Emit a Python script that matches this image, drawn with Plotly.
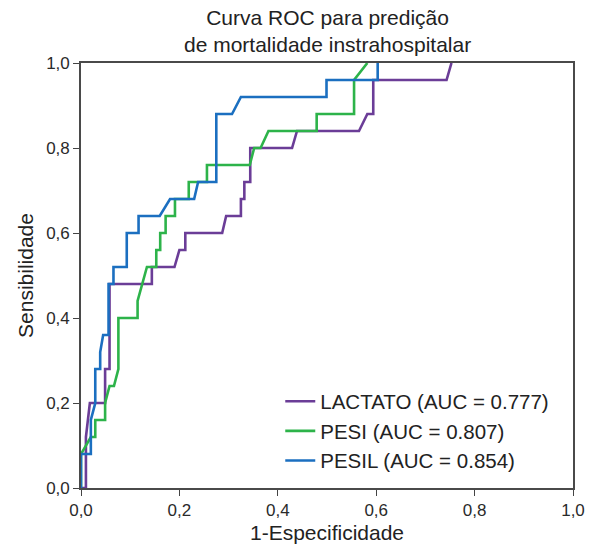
import plotly.graph_objects as go

lact_fpr = [0, 0.01, 0.01, 0.018, 0.049, 0.049, 0.058, 0.058, 0.144, 0.144, 0.19, 0.2, 0.212, 0.212,
            0.287, 0.295, 0.325, 0.325, 0.332, 0.332, 0.344, 0.344, 0.429, 0.439, 0.565, 0.582, 0.594,
            0.594, 0.743, 0.753]
lact_tpr = [0, 0, 0.12, 0.2, 0.2, 0.28, 0.28, 0.48, 0.48, 0.52, 0.52, 0.56, 0.56, 0.6,
            0.6, 0.64, 0.64, 0.68, 0.68, 0.72, 0.72, 0.8, 0.8, 0.84, 0.84, 0.88, 0.88,
            0.96, 0.96, 1.0]

pesi_fpr = [0, 0, 0.02, 0.029, 0.029, 0.049, 0.049, 0.058, 0.067, 0.076, 0.076, 0.115, 0.115, 0.134,
            0.153, 0.153, 0.161, 0.161, 0.172, 0.172, 0.191, 0.191, 0.219, 0.219, 0.256, 0.256,
            0.343, 0.352, 0.365, 0.381, 0.479, 0.479, 0.555, 0.555, 0.582]
pesi_tpr = [0, 0.08, 0.12, 0.12, 0.16, 0.16, 0.2, 0.24, 0.24, 0.28, 0.4, 0.4, 0.44, 0.52,
            0.52, 0.56, 0.56, 0.6, 0.6, 0.64, 0.64, 0.68, 0.68, 0.72, 0.72, 0.76,
            0.76, 0.8, 0.8, 0.84, 0.84, 0.88, 0.88, 0.96, 1.0]

pesil_fpr = [0, 0, 0.02, 0.02, 0.029, 0.029, 0.039, 0.039, 0.045, 0.056, 0.056, 0.066, 0.066, 0.093,
             0.093, 0.117, 0.117, 0.16, 0.181, 0.23, 0.238, 0.275, 0.275, 0.307, 0.325, 0.499,
             0.499, 0.603, 0.603]
pesil_tpr = [0, 0.08, 0.08, 0.16, 0.2, 0.28, 0.28, 0.32, 0.36, 0.36, 0.48, 0.48, 0.52, 0.52,
             0.6, 0.6, 0.64, 0.64, 0.68, 0.68, 0.72, 0.72, 0.88, 0.88, 0.92, 0.92,
             0.96, 0.96, 1.0]

series_names = ["LACTATO (AUC = 0.777)", "PESI (AUC = 0.807)", "PESIL (AUC = 0.854)"]
series_colors = ["#6b3d97", "#2db34a", "#1b6fc0"]
tick_vals = [0, 0.2, 0.4, 0.6, 0.8, 1.0]
tick_text = ["0,0", "0,2", "0,4", "0,6", "0,8", "1,0"]
title_text = "Curva ROC para predição<br>de mortalidade instrahospitalar"

fig = go.Figure()
for (xs, ys), name, col in zip([(lact_fpr, lact_tpr), (pesi_fpr, pesi_tpr), (pesil_fpr, pesil_tpr)],
                               series_names, series_colors):
    fig.add_trace(go.Scatter(x=xs, y=ys, mode="lines", name=name,
                             line=dict(color=col, width=2.6)))

font_fam = "Liberation Sans, Arial, sans-serif"
axis_common = dict(range=[0, 1], tickvals=tick_vals, ticktext=tick_text, ticks="outside",
                   ticklen=6, tickwidth=1.3, tickcolor="#444", showline=True, linecolor="#4a4a4a",
                   linewidth=1.6, mirror=True, showgrid=False, zeroline=False, automargin=False,
                   tickfont=dict(size=17, color="#2a2a2a", family=font_fam))

fig.update_layout(
    width=595, height=544,
    margin=dict(l=81, r=22, t=63, b=56),
    paper_bgcolor="white", plot_bgcolor="white",
    font=dict(family=font_fam, color="#222"),
    xaxis=dict(axis_common, title=dict(text="1-Especificidade", font=dict(size=21, color="#222"), standoff=7)),
    yaxis=dict(axis_common, title=dict(text="Sensibilidade", font=dict(size=21, color="#222"), standoff=7)),
    legend=dict(x=0.405, y=0.018, xanchor="left", yanchor="bottom", bgcolor="rgba(0,0,0,0)",
                font=dict(size=20.5, color="#222"), tracegroupgap=0, itemwidth=30),
    showlegend=True,
    annotations=[dict(text=title_text, xref="paper", yref="paper", x=0.5, y=1.075,
                      xanchor="center", yanchor="middle", showarrow=False,
                      font=dict(size=21, color="#222"))],
)

fig.write_html("out.html")
